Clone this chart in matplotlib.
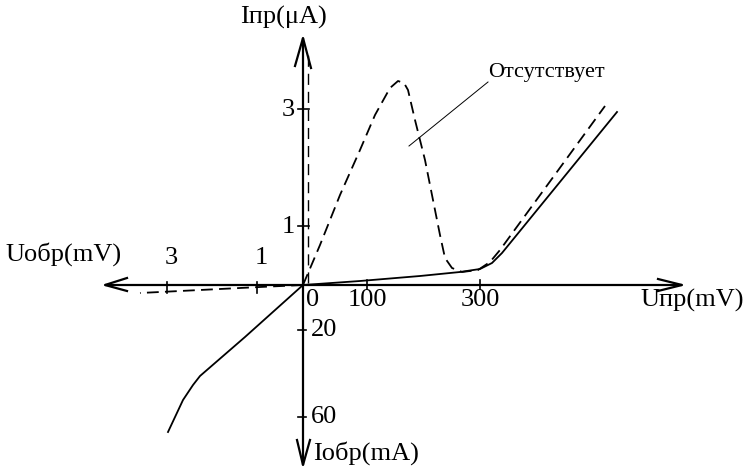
import matplotlib
matplotlib.use("Agg")
import matplotlib.pyplot as plt
import numpy as np

plt.rcParams['font.family'] = ['Liberation Serif', 'DejaVu Serif']
plt.rcParams['lines.scale_dashes'] = False

# Schematic coordinates: origin at the crossing of the axes,
# x to the right (forward voltage), y upward (forward current).
# Values in drawing units.

# Solid curve (forward branch)
solid_fwd_x = [0, 57, 117, 157, 177, 189, 199, 314]
solid_fwd_y = [0, 4, 9, 13, 16, 22, 32, 173]
# Solid curve (reverse branch)
solid_rev_x = [0, -58, -103, -110, -120, -135]
solid_rev_y = [0, -52, -91, -100, -115, -147]
# Dashed curve (tunnel characteristic, "absent" region)
dash_fwd_x = [0, 17, 37, 57, 72, 87, 95, 101, 105, 112, 122, 130, 137, 142, 149, 159, 175, 187, 197, 302]
dash_fwd_y = [0, 40, 90, 135, 170, 197, 204, 202, 195, 165, 125, 85, 50, 27, 17, 13, 15, 23, 35, 179]
# Dashed reverse branch
dash_rev_x = [0, -43, -103, -163]
dash_rev_y = [0, -2, -5, -8]
# Dashed vertical line near the current axis
dash_vert_x = [5, 5]
dash_vert_y = [2, 233]

# Axis extents and ticks (drawing units)
x_axis_left, x_axis_right = -198, 379
y_axis_bottom, y_axis_top = -180, 247
tick_fwd_x = [64, 177]
tick_fwd_labels = ['100', '300']
tick_rev_x = [-46, -136]
tick_rev_labels = ['1', '3']
tick_up_y = [59, 176]
tick_up_labels = ['1', '3']
tick_down_y = [-45, -132]
tick_down_labels = ['20', '60']

fig = plt.figure(figsize=(7.48, 4.75), dpi=100)
ax = fig.add_axes([0, 0, 1, 1])
ax.set_xlim(-303, 445)
ax.set_ylim(-190, 285)
ax.axis('off')

lw_axis = 1.6
lw_curve = 1.3
k = 'black'

# axes lines
ax.plot([x_axis_left, x_axis_right], [0, 0], color=k, lw=lw_axis, solid_capstyle='butt')
ax.plot([0, 0], [y_axis_bottom, y_axis_top], color=k, lw=lw_axis, solid_capstyle='butt')

def open_head(tip, d1, d2):
    ax.plot([tip[0] + d1[0], tip[0], tip[0] + d2[0]],
            [tip[1] + d1[1], tip[1], tip[1] + d2[1]], color=k, lw=lw_axis)

open_head((x_axis_right, 0), (-24, 6), (-24, -6))
open_head((x_axis_left, 0), (22, 7), (22, -6))
open_head((0, y_axis_top), (-8, -28), (8, -30))
open_head((0, y_axis_bottom), (-6, 25), (7, 25))

# ticks
for xv in tick_fwd_x:
    ax.plot([xv, xv], [-4, 5], color=k, lw=1.2)
for xv in tick_rev_x:
    ax.plot([xv, xv], [-8, 3], color=k, lw=1.2)
for yv in tick_up_y:
    ax.plot([-5, 6], [yv, yv], color=k, lw=1.2)
for yv in tick_down_y:
    ax.plot([-5, 3], [yv, yv], color=k, lw=1.2)

fs = 19
for xv, lab in zip(tick_fwd_x, tick_fwd_labels):
    ax.text(xv, -15, lab, ha='center', va='center', fontsize=fs)
ax.text(10, -15, '0', ha='center', va='center', fontsize=fs)
for xv, lab in zip(tick_rev_x, tick_rev_labels):
    ax.text(xv + 4, 27, lab, ha='center', va='center', fontsize=fs)
for yv, lab in zip(tick_up_y, tick_up_labels):
    ax.text(-8, yv - 1, lab, ha='right', va='center', fontsize=fs)
for yv, lab in zip(tick_down_y, tick_down_labels):
    ax.text(8, yv, lab, ha='left', va='center', fontsize=fs)

# curves
ax.plot(solid_fwd_x, solid_fwd_y, color=k, lw=lw_curve)
ax.plot(solid_rev_x, solid_rev_y, color=k, lw=lw_curve)
dash = (0, (8.5, 4.5))
ax.plot(dash_fwd_x, dash_fwd_y, color=k, lw=lw_curve, linestyle=dash)
ax.plot(dash_rev_x, dash_rev_y, color=k, lw=lw_curve, linestyle=dash)
ax.plot(dash_vert_x, dash_vert_y, color=k, lw=1.0, linestyle=(0, (8, 5)))

# axis labels
ax.text(-63, 268, 'Iпр(μA)', ha='left', va='center', fontsize=fs)
ax.text(-298, 31, 'Uобр(mV)', ha='left', va='center', fontsize=fs)
ax.text(337, -15, 'Uпр(mV)', ha='left', va='center', fontsize=fs)
ax.text(10, -168, 'Iобр(mA)', ha='left', va='center', fontsize=fs)

# annotation
ax.plot([106, 185], [139, 203], color=k, lw=0.7)
ax.text(185, 212, 'Отсутствует', ha='left', va='center', fontsize=16)

fig.savefig('out.png', dpi=100)
